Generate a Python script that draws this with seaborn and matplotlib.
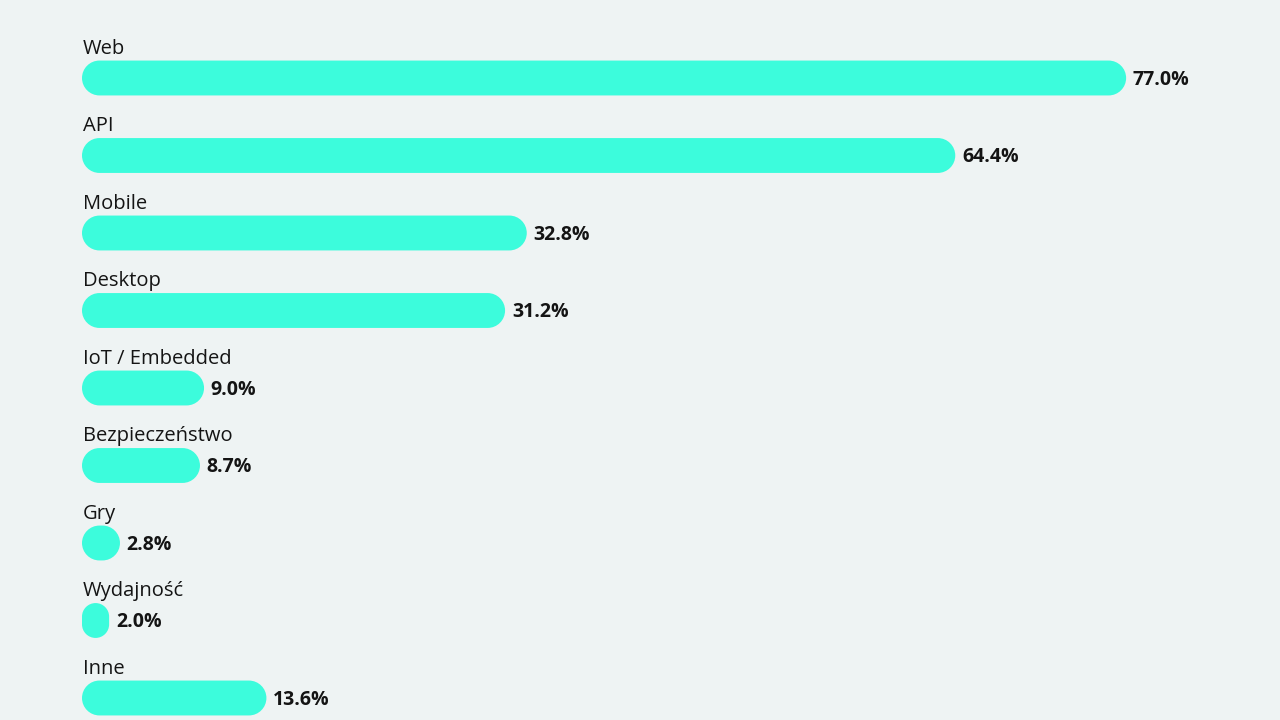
import numpy as np
import pandas as pd
import matplotlib
matplotlib.use("Agg")
import matplotlib.pyplot as plt
from matplotlib.patches import PathPatch
from matplotlib.path import Path
from matplotlib.transforms import IdentityTransform
import seaborn as sns

# dane z wykresu
kategorie = ["Web", "API", "Mobile", "Desktop", "IoT / Embedded",
             "Bezpieczeństwo", "Gry", "Wydajność", "Inne"]
wartosci = [77.0, 64.4, 32.8, 31.2, 9.0, 8.7, 2.8, 2.0, 13.6]

TLO = "#eef3f3"
KOLOR = "#3cfcdc"
TEKST = "#141414"


def pigulka(x0, y0, w, h):
    # prostokat z okraglymi koncami (krzywe Beziera 3 stopnia)
    r = min(w, h) / 2
    k = 0.5523 * r
    x1, y1 = x0 + w, y0 + h
    C = Path.CURVE4
    verts = [(x0 + r, y0), (x1 - r, y0),
             (x1 - r + k, y0), (x1, y0 + r - k), (x1, y0 + r),
             (x1, y1 - r),
             (x1, y1 - r + k), (x1 - r + k, y1), (x1 - r, y1),
             (x0 + r, y1),
             (x0 + r - k, y1), (x0, y1 - r + k), (x0, y1 - r),
             (x0, y0 + r),
             (x0, y0 + r - k), (x0 + r - k, y0), (x0 + r, y0),
             (x0 + r, y0)]
    codes = [Path.MOVETO, Path.LINETO, C, C, C, Path.LINETO, C, C, C,
             Path.LINETO, C, C, C, Path.LINETO, C, C, C, Path.CLOSEPOLY]
    return Path(verts, codes)


df = pd.DataFrame({"kategoria": kategorie, "wartosc": wartosci})

sns.set_theme(style="white")
plt.rcParams["font.family"] = ["Open Sans", "DejaVu Sans"]

fig = plt.figure(figsize=(12.8, 7.2), dpi=100, facecolor=TLO)
ax = fig.add_axes([0, 0, 1, 1])
ax.set_facecolor(TLO)

szer_bar = 0.45
sns.barplot(data=df, x="wartosc", y="kategoria", orient="h",
            color=KOLOR, width=szer_bar, saturation=1, ax=ax)

# skala: ~13.56 px na 1%, 77.5 px na wiersz
px_x = 13.56
px_y = 77.5
ax.set_xlim(-82 / px_x, (1280 - 82) / px_x)
ax.set_ylim((720 - 78) / px_y, -78 / px_y)
ax.set_axis_off()

# zamiana prostokatow na zaokraglone paski (w pikselach)
fig.canvas.draw()
for p in list(ax.patches):
    (xa, ya), (xb, yb) = ax.transData.transform(
        [(p.get_x(), p.get_y()), (p.get_x() + p.get_width(), p.get_y() + p.get_height())])
    xa, xb = sorted([xa, xb])
    ya, yb = sorted([ya, yb])
    nowy = PathPatch(pigulka(xa, ya, xb - xa, yb - ya),
                     transform=IdentityTransform(),
                     facecolor=KOLOR, edgecolor="none")
    p.remove()
    fig.add_artist(nowy)

for i, (k, v) in enumerate(zip(kategorie, wartosci)):
    ax.text(0.05, i - 0.375, k, fontsize=14.5, color=TEKST,
            ha="left", va="center")
    ax.text(v + 0.5, i + 0.02, f"{v:.1f}%", fontsize=14, fontweight="bold",
            color=TEKST, ha="left", va="center")

fig.savefig("out.png", dpi=100, facecolor=TLO)
